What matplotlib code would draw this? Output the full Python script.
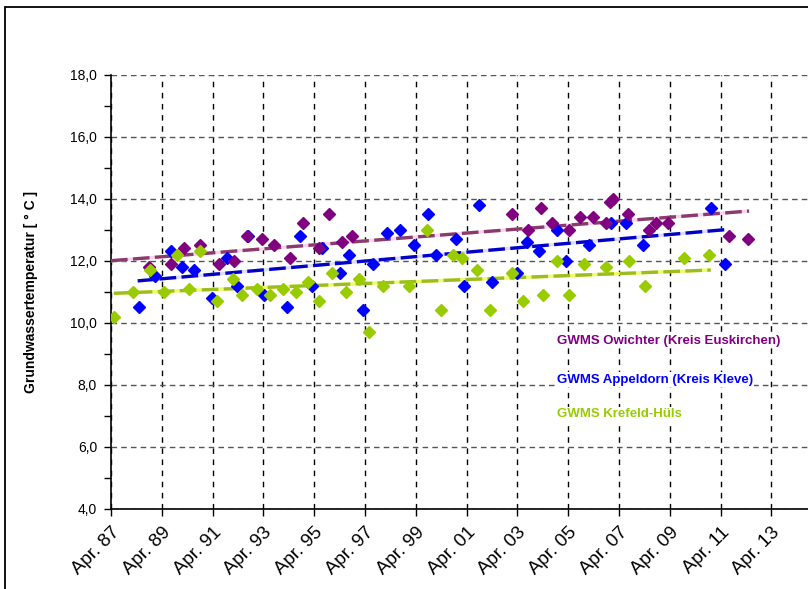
import numpy as np
import matplotlib
matplotlib.use("Agg")
import matplotlib.pyplot as plt
from matplotlib.patches import Rectangle
from matplotlib.ticker import MultipleLocator, FuncFormatter
from matplotlib.transforms import ScaledTranslation

plt.rcParams['font.family'] = ['Liberation Sans', 'DejaVu Sans']

# Messzeitpunkte (Dezimaljahre) und Grundwassertemperaturen in °C
owi_t = [1988.76, 1989.61, 1990.14, 1990.77, 1991.50, 1992.08, 1992.60, 1993.19,
         1993.66, 1994.30, 1994.82, 1995.45, 1995.82, 1996.34, 1996.74, 2003.03,
         2003.67, 2004.17, 2004.62, 2005.28, 2005.71, 2006.24, 2006.73, 2006.90,
         2007.03, 2007.62, 2008.44, 2008.69, 2009.17, 2011.58, 2012.34]
owi_v = [11.8, 11.9, 12.4, 12.5, 11.9, 12.0, 12.8, 12.7,
         12.5, 12.1, 13.2, 12.4, 13.5, 12.6, 12.8, 13.5,
         13.0, 13.7, 13.2, 13.0, 13.4, 13.4, 13.2, 13.9,
         14.0, 13.5, 13.0, 13.2, 13.2, 12.8, 12.7]

app_t = [1988.36, 1988.99, 1989.61, 1990.03, 1990.53, 1991.24, 1991.83, 1992.22,
         1992.63, 1993.26, 1994.18, 1994.69, 1995.16, 1995.57, 1996.25, 1996.61,
         1997.16, 1997.58, 1998.13, 1998.63, 1999.19, 1999.72, 2000.05, 2000.83,
         2001.16, 2001.75, 2002.25, 2003.22, 2003.62, 2004.10, 2004.82, 2005.16,
         2006.06, 2006.92, 2007.51, 2008.19, 2010.86, 2011.42]
app_v = [10.5, 11.5, 12.3, 11.8, 11.7, 10.8, 12.1, 11.2,
         12.8, 10.9, 10.5, 12.8, 11.2, 12.4, 11.6, 12.2,
         10.4, 11.9, 12.9, 13.0, 12.5, 13.5, 12.2, 12.7,
         11.2, 13.8, 11.3, 11.6, 12.6, 12.3, 13.0, 12.0,
         12.5, 13.2, 13.2, 12.5, 13.7, 11.9]

kre_t = [1987.36, 1988.13, 1988.79, 1989.35, 1989.86, 1990.33, 1990.77, 1991.41,
         1992.04, 1992.42, 1993.01, 1993.51, 1994.01, 1994.55, 1995.01, 1995.44,
         1995.96, 1996.49, 1997.00, 1997.42, 1997.97, 1998.97, 1999.69, 2000.23,
         2000.70, 2001.08, 2001.67, 2002.17, 2003.03, 2003.46, 2004.27, 2004.82,
         2005.28, 2005.87, 2006.74, 2007.66, 2008.27, 2009.82, 2010.80]
kre_v = [10.2, 11.0, 11.7, 11.0, 12.2, 11.1, 12.3, 10.7,
         11.4, 10.9, 11.1, 10.9, 11.1, 11.0, 11.3, 10.7,
         11.6, 11.0, 11.4, 9.7, 11.2, 11.2, 13.0, 10.4,
         12.2, 12.1, 11.7, 10.4, 11.6, 10.7, 10.9, 12.0,
         10.9, 11.9, 11.8, 12.0, 11.2, 12.1, 12.2]

# lineare Trends: (Jahr Anfang, Jahr Ende), (Wert Anfang, Wert Ende)
trend_t = [(1987.25, 2012.37), (1988.30, 2011.42), (1987.36, 2010.86)]
trend_v = [(12.0, 13.6), (11.35, 13.0), (10.95, 11.7)]

namen = ["GWMS Owichter (Kreis Euskirchen)",
         "GWMS Appeldorn (Kreis Kleve)",
         "GWMS Krefeld-Hüls"]
farben = ["#800080", "#0000FF", "#99CC00"]
trend_farben = ["#8A3A6C", "#0000C8", "#9CBC24"]
trend_hell = ["#F6D4F0", "#DCDCFF", "#EEFF66"]
# Zeichenreihenfolge der Punkte: Appeldorn unten, Krefeld oben
punkt_z = [6, 5, 7]

tick_jahre = list(range(1987, 2014, 2))
tick_labels = [f"Apr. {j % 100:02d}" for j in tick_jahre]

fig = plt.figure(figsize=(8.08, 5.89), dpi=100)
ax = fig.add_axes([111 / 808, 80 / 589, 1 - 111 / 808, 434.5 / 589])

x0 = 1987.25
ax.set_xlim(x0, x0 + (808 - 111) / 25.4)
ax.set_ylim(4, 18)

serien = [(owi_t, owi_v), (app_t, app_v), (kre_t, kre_v)]
for i, (t, v) in enumerate(serien):
    ax.plot(trend_t[i], trend_v[i], color=trend_hell[i], lw=2.4, zorder=3,
            solid_capstyle='butt')
    ax.plot(trend_t[i], trend_v[i], color=trend_farben[i], lw=2.4, zorder=4,
            dashes=(5, 1.6), dash_capstyle='butt')
    ax.plot(t, v, 'D', color=farben[i], ms=6, mec=farben[i], zorder=punkt_z[i],
            linestyle='none')

ax.set_xticks([x0 + (j - 1987) for j in tick_jahre])
ax.set_xticklabels(tick_labels, rotation=45, ha='right', va='top',
                   rotation_mode='anchor', fontsize=13.5)
verschiebung = ScaledTranslation(-8 / 100, 0, fig.dpi_scale_trans)
for lab in ax.get_xticklabels():
    lab.set_transform(lab.get_transform() + verschiebung)

ax.yaxis.set_major_locator(MultipleLocator(2))
ax.yaxis.set_minor_locator(MultipleLocator(1))
ax.yaxis.set_major_formatter(FuncFormatter(lambda y, p: f"{y:.1f}".replace(".", ",")))
ax.tick_params(axis='y', which='both', direction='out', length=5, width=1,
               labelsize=10, pad=5)
ax.tick_params(axis='x', direction='out', length=5, width=1, pad=6)

ax.grid(True, axis='y', color='#555555', linestyle=(0, (4, 3)), lw=1)
ax.grid(True, axis='x', color='black', linestyle=(0, (4, 4)), lw=1)
ax.set_axisbelow(True)
for s in ['top', 'right']:
    ax.spines[s].set_visible(False)
ax.spines['left'].set_linewidth(1.2)
ax.spines['bottom'].set_linewidth(1.2)

ax.set_ylabel("Grundwassertemperatur [ ° C ]", fontsize=10, fontweight='bold')
ax.yaxis.set_label_coords(-0.105, 0.5)

# Stationsbeschriftungen im Diagramm
text_y = [9.42, 8.16, 7.06]
for i, name in enumerate(namen):
    ax.text(2004.8, text_y[i], name, color=farben[i], fontsize=9.5,
            fontweight='bold', va='center', ha='left', zorder=8,
            bbox=dict(fc='white', ec='none', pad=1))

# Rahmen um den Diagrammbereich
fig.add_artist(Rectangle((5 / 808, -0.5), 2, 0.5 + 1 - 7 / 589,
                         transform=fig.transFigure, fill=False,
                         ec='black', lw=1.3))

fig.savefig("out.png", dpi=100)
